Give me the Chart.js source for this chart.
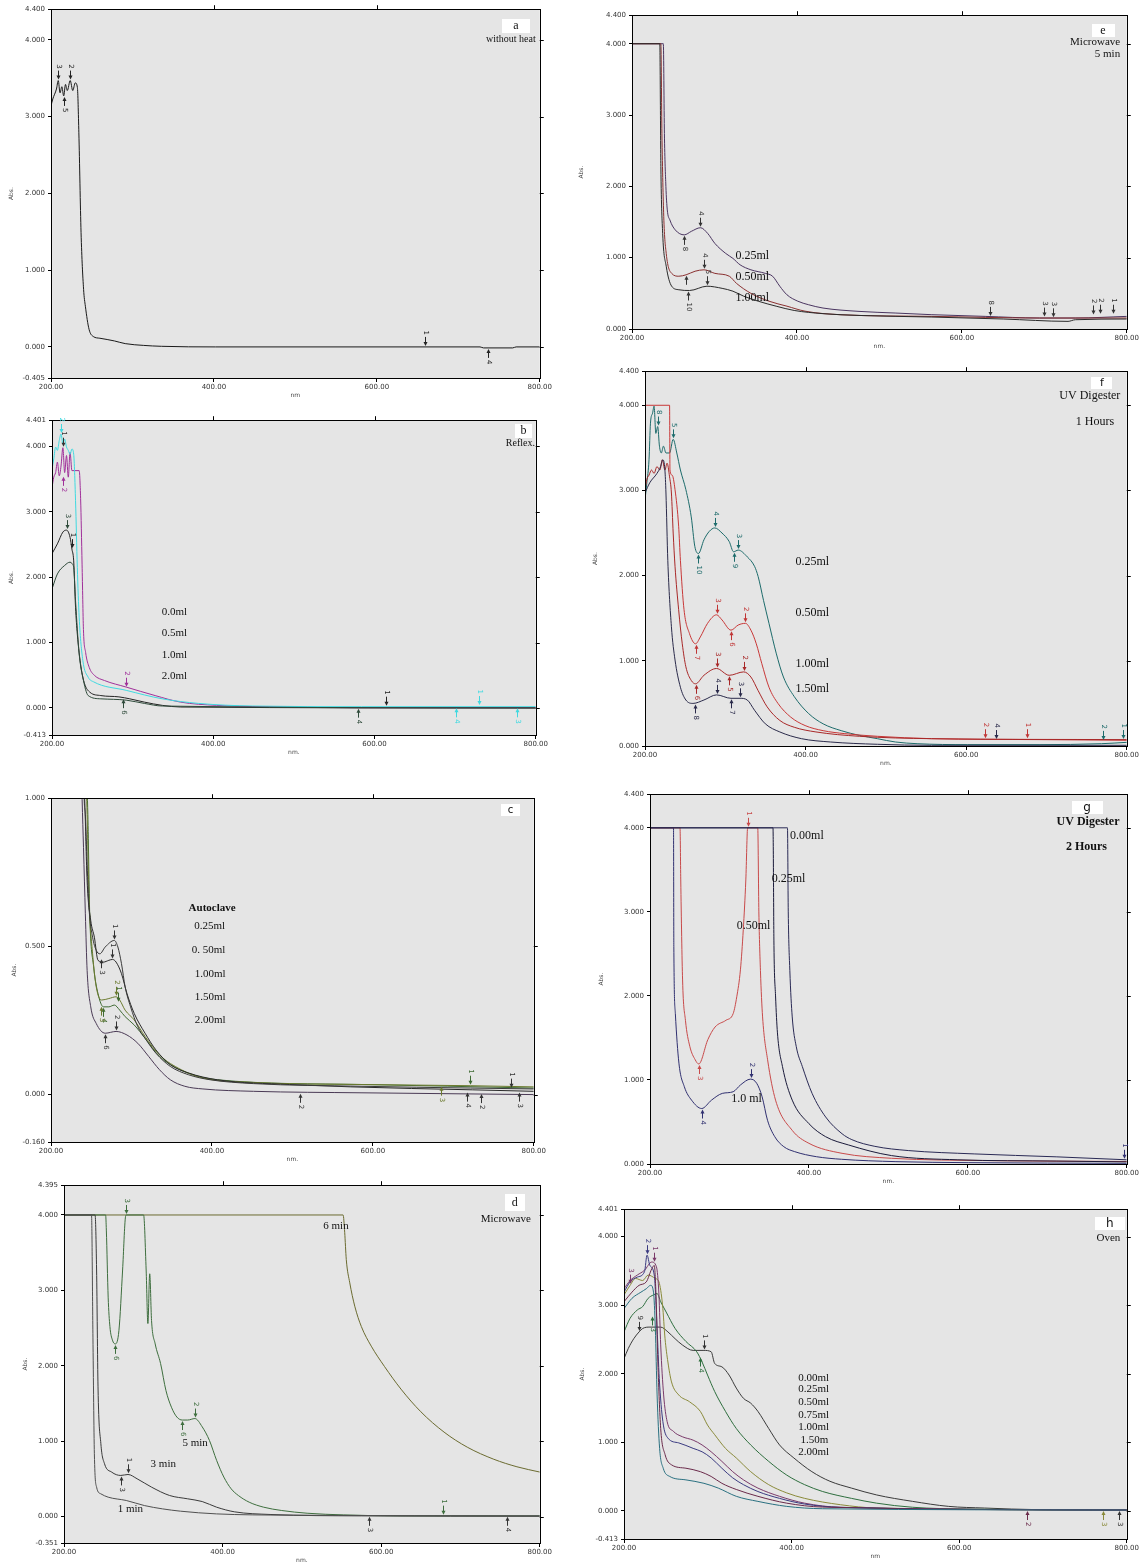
<!DOCTYPE html>
<html><head><meta charset="utf-8">
<script src="https://cdn.jsdelivr.net/npm/chart.js@4.4.0/dist/chart.umd.min.js"></script>
<style>
html,body{margin:0;padding:0;background:#fff;}
body{width:1140px;height:1564px;position:relative;overflow:hidden;}
canvas{position:absolute;}
</style>
</head><body>
<script>
// ---------------- DATA ----------------
const X_TICKS = [200, 400, 600, 800];
const A_YTICKS = [-0.405, 0, 1, 2, 3, 4, 4.4];
const B_YTICKS = [-0.413, 0, 1, 2, 3, 4, 4.401];
const C_YTICKS = [-0.16, 0, 0.5, 1.0];
const D_YTICKS = [-0.351, 0, 1, 2, 3, 4, 4.395];
const E_YTICKS = [0, 1, 2, 3, 4, 4.4];
const F_YTICKS = [0, 1, 2, 3, 4, 4.4];
const G_YTICKS = [0, 1, 2, 3, 4, 4.4];
const H_YTICKS = [-0.413, 0, 1, 2, 3, 4, 4.401];

// (a) without heat
const A_NM  = [200,202.2,206.7,208.9,211.1,213.3,215.6,217.8,220,223.6,226.7,229.8,232.4,234.2,236.9,240,242.2,246.7,252,260,277.8,291.1,313.3,335.6,402,726.7,731,766.7,771,800];
const A_ABS = [3.14,3.23,3.36,3.47,3.31,3.39,3.27,3.42,3.34,3.47,3.34,3.44,3.38,2.79,1.49,0.75,0.53,0.23,0.135,0.113,0.078,0.043,0.02,0.008,0,0,-0.013,-0.013,0,0];

// (b) Reflex
const B_NM_00  = [200,202.2,204.5,206.7,209.0,211.2,213.5,215.7,218.0,220.2,222.4,224.7,233.7,235.5,237.3,239.0,241.7,246.2,252.5,265.1,292.0,327.9,359.3,404.2,494.0,583.8,800];
const B_ABS_00 = [3.37,3.53,3.60,3.76,3.55,3.70,3.98,3.60,3.86,3.53,3.91,3.63,3.63,3.2,2.2,1.2,0.85,0.62,0.50,0.42,0.32,0.19,0.09,0.04,0.015,0.005,0.005];
const B_NM_05  = [200,202.2,204.5,206.7,209.0,211.2,213.5,215.7,218.0,220.2,222.4,224.7,226.9,229.2,231.4,233.7,238.2,244.9,251.6,292.0,336.9,381.8,449.1,583.8,800];
const B_ABS_05 = [3.65,3.81,3.99,3.94,4.09,4.19,4.04,4.11,3.99,3.94,3.88,3.96,3.88,3.17,2.15,1.39,0.73,0.47,0.40,0.27,0.14,0.07,0.03,0.02,0.02];
const B_NM_10  = [200,206.7,213.5,218.0,222.4,224.7,226.9,229.2,231.4,235.9,240.4,247.1,260.6,283.0,296.5,314.5,336.9,359.3,800];
const B_ABS_10 = [2.36,2.51,2.69,2.72,2.61,2.43,2.25,1.54,1.13,0.63,0.37,0.24,0.19,0.17,0.14,0.09,0.04,0.015,0.0];
const B_NM_20  = [200,206.7,215.7,222.4,224.7,226.9,229.2,233.7,238.2,244.9,260.6,292.0,314.5,336.9,800];
const B_ABS_20 = [1.82,2.05,2.18,2.23,2.21,2.15,1.64,0.83,0.47,0.19,0.14,0.12,0.07,0.03,0.0];

// (c) Autoclave
const C_NM_025  = [239.6,241.3,242.7,244.9,247.2,251.7,256.2,260.7,267.4,278.7,283.1,287.6,292.1,298.9,307.9,316.9,330.3,348.3,370.8,397.8,451.7,586.5,721.3,800];
const C_ABS_025 = [1.3,0.995,0.945,0.777,0.632,0.531,0.487,0.475,0.498,0.520,0.498,0.442,0.364,0.296,0.229,0.190,0.140,0.095,0.067,0.050,0.037,0.028,0.022,0.019];
const C_NM_050  = [240.4,242.2,244.9,249.4,253.9,258.4,265.2,271.9,276.4,280.9,287.6,294.4,303.4,316.9,330.3,348.3,370.8,406.7,496.6,800];
const C_ABS_050 = [1.1,0.968,0.721,0.587,0.531,0.453,0.447,0.453,0.456,0.447,0.408,0.341,0.274,0.207,0.151,0.101,0.073,0.050,0.034,0.011];
const C_NM_100  = [243.1,244.9,247.2,251.7,256.2,262.9,271.9,280.9,285.4,292.1,303.4,316.9,334.8,361.8,388.8,451.7,586.5,721.3,800];
const C_ABS_100 = [1.1,0.945,0.666,0.475,0.364,0.319,0.324,0.330,0.319,0.285,0.252,0.196,0.134,0.084,0.056,0.041,0.034,0.030,0.026];
const C_NM_150  = [244.0,245.8,248.1,253.0,258.4,265.2,271.9,278.7,285.4,292.1,303.4,316.9,334.8,361.8,406.7,586.5,800];
const C_ABS_150 = [1.1,0.945,0.610,0.431,0.341,0.296,0.296,0.302,0.285,0.263,0.235,0.190,0.129,0.082,0.050,0.034,0.022];
const C_NM_200  = [237.8,238.7,240.4,242.7,244.9,249.4,256.2,267.4,280.9,294.4,307.9,321.3,334.8,348.3,366.3,388.8,451.7,586.5,800];
const C_ABS_200 = [1.1,0.995,0.833,0.610,0.419,0.296,0.240,0.207,0.213,0.201,0.173,0.129,0.084,0.050,0.028,0.019,0.011,0.006,0.0];

// (d) Microwave
const D_NM_6   = [200,552,554,556,560.4,566.7,575,587.5,604.2,625,650,679.3,708.6,742,771.2,800];
const D_ABS_6  = [4,4,3.77,3.41,3.10,2.79,2.52,2.26,1.99,1.69,1.39,1.12,0.92,0.76,0.66,0.59];
const D_NM_5   = [200,252.5,253.4,255.7,257.9,261.1,264.8,269.3,273.9,277.6,278.5,300.4,303.6,305.8,308.1,310.4,315.0,321.8,328.6,335.5,342.3,349.2,356.0,365.1,374.3,383.4,392.5,401.6,410.8,419.9,433.6,451.8,474.6,506.6,552.2,620.6,800];
const D_ABS_5  = [4,4,3.80,2.91,2.52,2.34,2.29,2.47,3.27,3.98,4.0,4.0,3.27,2.56,3.22,2.60,2.29,2.03,1.67,1.45,1.32,1.28,1.28,1.30,1.19,1.01,0.744,0.523,0.368,0.279,0.190,0.124,0.080,0.044,0.022,0.009,0.009];
const D_NM_3   = [200,239.2,241.1,242.9,246.5,251.1,260.2,271.6,280.7,292.2,310.4,333.2,356.0,374.3,392.5,415.3,461.0,575.0,800];
const D_ABS_3  = [4,4,3.27,1.72,0.966,0.700,0.589,0.545,0.558,0.501,0.390,0.279,0.235,0.199,0.124,0.062,0.027,0.009,0.004];
const D_NM_1   = [200,234.7,236.5,238.3,241.1,246.5,255.7,278.5,301.3,324.1,346.9,392.5,483.8,800];
const D_ABS_1  = [4,4,2.38,0.833,0.390,0.301,0.257,0.213,0.146,0.102,0.071,0.035,0.018,0.009];

// (e) Microwave 5 min
const E_NM_025  = [200,238.0,239.3,241.1,242.8,245.9,252.4,263.4,272.1,283.0,291.8,300.5,313.6,322.4,331.1,344.2,361.7,370.5,379.2,387.9,401.0,414.2,431.6,475.3,519.1,562.8,628.3,693.9,737.6,800];
const E_ABS_025 = [4,4,2.74,2.0,1.67,1.53,1.39,1.32,1.37,1.42,1.34,1.20,1.06,0.99,0.90,0.83,0.78,0.74,0.60,0.48,0.39,0.34,0.294,0.247,0.224,0.201,0.177,0.154,0.154,0.177];
const E_NM_050  = [200,235.0,236.3,238.5,241.5,248.1,256.8,265.6,276.5,287.4,300.5,318.0,326.7,344.2,366.1,387.9,409.8,453.5,562.8,693.9,800];
const E_ABS_050 = [4,4,2.74,1.58,1.06,0.78,0.74,0.76,0.81,0.83,0.78,0.74,0.64,0.50,0.39,0.32,0.25,0.20,0.177,0.154,0.154];
const E_NM_100  = [200,233.7,235.0,237.2,241.5,248.1,256.8,269.9,290.9,309.3,322.4,335.5,353.0,374.8,396.7,431.6,475.3,562.8,650.2,728.8,737.6,800];
const E_ABS_100 = [4,4,2.28,1.34,0.88,0.60,0.55,0.54,0.60,0.57,0.53,0.46,0.39,0.32,0.26,0.215,0.19,0.168,0.14,0.107,0.13,0.14];

// (f) UV Digester 1 h
const F_NM_025  = [200,202.3,205.0,206.8,209.5,211.3,213.5,215.8,218.0,220.3,223.0,226.1,230.6,235.1,239.6,244.1,250.9,257.6,262.1,266.6,273.4,280.1,286.9,295.9,304.9,310.3,316.1,327.4,336.4,340.9,347.6,354.4,363.4,372.4,385.9,403.9,421.9,444.4,466.9,489.4,511.9,538.9,601.9,691.9,768.4,800];
const F_ABS_025 = [2.89,3.09,3.36,3.79,3.91,3.99,3.67,3.75,3.52,3.44,3.52,3.44,3.44,3.60,3.44,3.24,3.01,2.69,2.34,2.26,2.42,2.52,2.56,2.50,2.40,2.28,2.30,2.22,2.11,1.99,1.71,1.44,1.09,0.81,0.58,0.38,0.26,0.18,0.125,0.086,0.047,0.027,0.016,0.016,0.027,0.043];
const F_NM_050  = [200,230.6,231.1,233.8,237.4,241.9,244.1,248.6,255.4,263.0,268.9,277.9,289.1,295.9,307.1,316.1,325.1,331.9,338.6,345.4,354.4,365.6,381.4,399.4,421.9,448.9,489.4,556.9,691.9,800];
const F_ABS_050 = [4,4,3.24,3.18,3.01,2.58,2.18,1.60,1.32,1.20,1.28,1.44,1.54,1.48,1.36,1.42,1.44,1.36,1.20,0.97,0.69,0.50,0.34,0.24,0.18,0.145,0.114,0.086,0.075,0.067];
const F_NM_100  = [200,202.3,205.0,208.1,211.3,214.9,218.5,221.6,224.8,227.5,230.6,232.9,235.1,237.4,241.9,246.4,250.9,257.6,263.0,273.4,289.1,304.9,322.9,331.9,340.9,352.1,367.9,385.9,412.9,466.9,556.9,800];
const F_ABS_100 = [3.01,3.13,3.18,3.24,3.20,3.28,3.24,3.36,3.24,3.32,3.16,2.97,2.50,2.11,1.60,1.20,0.93,0.77,0.73,0.83,0.91,0.83,0.87,0.81,0.65,0.46,0.30,0.22,0.165,0.114,0.086,0.075];
const F_NM_150  = [200,205.9,214.9,219.4,222.1,224.8,226.1,228.4,232.9,237.4,244.1,250.9,259.9,273.4,289.1,307.1,318.4,327.4,336.4,349.9,367.9,394.9,430.9,489.4,556.9,800];
const F_ABS_150 = [2.97,3.09,3.20,3.28,3.36,3.24,2.97,2.18,1.40,1.01,0.69,0.54,0.50,0.54,0.60,0.56,0.56,0.54,0.42,0.26,0.165,0.086,0.047,0.020,0.008,0.008];

// (g) UV Digester 2 h
const G_NM_000  = [200,373,374,376,379,384,391.7,404,421,441.7,454,483,525,608,712,800];
const G_ABS_000 = [4,4,3.0,2.3,1.75,1.4,1.16,0.84,0.56,0.36,0.29,0.21,0.16,0.12,0.085,0.05];
const G_NM_025  = [200,354.8,356,358,360.4,366.7,379,400,421,450,504,587.5,712,800];
const G_ABS_025 = [4,4,2.6,2.0,1.56,1.16,0.76,0.48,0.325,0.226,0.10,0.05,0.035,0.025];
const G_NM_050  = [200,237.8,238.7,241.0,244.6,250.1,256.9,261.4,272.8,281.9,295.6,304.7,309.2,313.8,317.4,320.6,322.9,335.6,337,339,341.7,348,358,379,400,441.7,504,629,800];
const G_ABS_050 = [4,4,3.38,2.19,1.71,1.40,1.24,1.19,1.48,1.63,1.71,1.79,1.99,2.31,2.79,3.38,4.0,4.0,3.0,2.3,1.75,1.24,0.76,0.40,0.246,0.127,0.068,0.04,0.03];
const G_NM_10   = [200,229.6,230.0,231.9,236.4,243.2,252.3,265.1,277.4,291.0,304.7,313.8,326.5,334.3,341.1,347.9,357.0,368.4,382.1,409.4,441.2,509.5,600.5,800];
const G_ABS_10  = [4,4,2.59,1.79,1.20,0.92,0.76,0.66,0.76,0.84,0.86,0.94,1.01,0.96,0.80,0.52,0.325,0.206,0.147,0.087,0.056,0.028,0.016,0.008];

// (h) Oven
const H_NM_000  = [200,205.2,211.6,218.0,222.3,230.9,243.8,252.4,261.0,269.6,282.5,295.4,304.0,308.2,316.8,325.4,334.0,342.6,351.2,359.8,372.7,385.6,402.7,424.2,445.7,471.5,501.5,544.5,587.5,630.4,694.8,800];
const H_ABS_000 = [2.22,2.37,2.51,2.61,2.66,2.68,2.68,2.61,2.51,2.42,2.34,2.34,2.32,2.15,2.10,1.98,1.79,1.64,1.57,1.45,1.20,0.96,0.77,0.57,0.43,0.33,0.23,0.136,0.063,0.039,0.015,0.01];
const H_NM_025  = [200,207.3,215.9,222.3,228.8,235.2,239.5,243.8,250.3,261.0,273.9,286.8,293.2,299.7,308.2,321.1,334.0,351.2,372.7,394.2,415.6,437.1,471.5,501.5,544.5,608.9,800];
const H_ABS_025 = [2.61,2.81,2.93,2.98,3.10,3.15,3.17,3.05,2.90,2.66,2.47,2.32,2.17,1.98,1.74,1.45,1.20,0.96,0.72,0.52,0.38,0.28,0.18,0.11,0.05,0.024,0.01];
const H_NM_050  = [200,207.3,213.7,222.3,228.8,237.4,241.7,246.0,249.0,252.4,256.7,265.3,278.2,291.1,299.7,308.2,321.1,334.0,351.2,372.7,394.2,415.6,458.6,501.5,800];
const H_ABS_050 = [3.15,3.29,3.39,3.36,3.44,3.39,3.34,3.00,2.51,2.17,1.88,1.69,1.59,1.45,1.25,1.11,0.91,0.77,0.57,0.38,0.26,0.18,0.087,0.039,0.01];
const H_NM_075  = [200,207.3,215.9,224.5,233.1,238.7,241.7,243.8,247.3,251.5,258.8,269.6,282.5,293.2,304.0,316.8,329.7,342.6,359.8,385.6,415.6,458.6,800];
const H_ABS_075 = [3.24,3.36,3.44,3.51,3.63,3.56,3.15,2.42,1.69,1.30,1.16,1.08,1.03,0.96,0.86,0.72,0.57,0.45,0.33,0.21,0.11,0.049,0.01];
const H_NM_100  = [200,207.3,215.9,224.5,227.5,230.9,236.1,239.5,242.1,246.4,252.4,265.3,282.5,293.2,304.0,316.8,329.7,342.6,359.8,385.6,415.6,458.6,800];
const H_ABS_100 = [3.19,3.34,3.41,3.49,3.73,3.58,3.44,2.66,1.93,1.30,1.06,0.99,0.91,0.86,0.77,0.62,0.48,0.38,0.28,0.18,0.097,0.049,0.01];
const H_NM_150  = [200,209.5,218.0,226.6,233.1,236.1,238.2,240.4,243.8,249.0,256.7,273.9,291.1,304.0,316.8,334.0,359.8,394.2,437.1,800];
const H_ABS_150 = [3.05,3.19,3.29,3.34,3.53,3.58,3.15,2.17,1.20,0.82,0.67,0.62,0.57,0.50,0.40,0.31,0.21,0.11,0.053,0.01];
const H_NM_200  = [200,209.5,220.2,226.6,231.8,235.2,237.4,239.5,242.5,246.8,254.6,273.9,295.4,312.5,334.0,359.8,394.2,437.1,800];
const H_ABS_200 = [2.95,3.10,3.19,3.24,3.29,3.19,2.66,1.69,0.91,0.62,0.50,0.45,0.40,0.33,0.21,0.136,0.063,0.029,0.01];

// Peak-pick markers: [nm, abs, label, 'd' = arrow from above / 'u' = arrow from below]
const A_MK = [[208.9,3.47,'3','d'],[215.6,3.27,'5','u'],[223.6,3.47,'2','d'],[659,0,'1','d'],[737,-0.013,'4','u']];
const B_MK = [[211.2,4.19,'2','d'],[213.5,3.98,'1','d'],[213.5,3.55,'2','u'],[218,2.72,'3','d'],[224.7,2.43,'1','d'],[287.5,0.15,'6','u'],[292,0.31,'2','d'],[579,0.005,'4','u'],[614.3,0.02,'1','d'],[701.3,0.01,'4','u'],[729.6,0.03,'1','d'],[776.7,0.01,'3','u']];
const C_MK = [[278.7,0.52,'1','d'],[262,0.46,'3','u'],[276.4,0.456,'1','d'],[280.9,0.33,'2','d'],[283,0.31,'1','d'],[265.2,0.296,'4','u'],[262,0.30,'3','u'],[267.4,0.207,'6','u'],[280.9,0.213,'2','d'],[509.2,0.006,'2','u'],[684.5,0.03,'3','u'],[721.3,0.03,'1','d'],[716.9,0.01,'4','u'],[734.8,0.005,'2','u'],[772.1,0.02,'1','d'],[782,0.01,'3','u']];
const D_MK = [[278.5,4.0,'3','d'],[264.8,2.29,'6','u'],[349.2,1.28,'6','u'],[365.1,1.30,'2','d'],[271.6,0.545,'3','u'],[280.7,0.56,'1','d'],[677.6,0.012,'1','d'],[584.1,0.01,'3','u'],[758.9,0.01,'4','u']];
const E_MK = [[283,1.42,'4','d'],[263.4,1.32,'8','u'],[287.4,0.83,'4','d'],[265.6,0.76,'','u'],[290.9,0.60,'5','d'],[268,0.54,'10','u'],[634,0.17,'8','d'],[699.6,0.16,'3','d'],[710,0.15,'3','d'],[759.4,0.19,'2','d'],[767,0.2,'2','d'],[783.5,0.2,'1','d']];
const F_MK = [[215.8,3.75,'8','d'],[235.1,3.60,'5','d'],[286.9,2.56,'4','d'],[266.6,2.26,'10','u'],[310.3,2.28,'9','u'],[316.1,2.30,'3','d'],
              [289.1,1.54,'3','d'],[263.0,1.20,'7','u'],[307.1,1.36,'6','u'],[325.1,1.44,'2','d'],
              [289.1,0.91,'3','d'],[263.0,0.73,'6','u'],[304.9,0.83,'5','u'],[322.9,0.87,'2','d'],
              [289.1,0.60,'4','d'],[262,0.50,'8','u'],[307.1,0.56,'7','u'],[318.4,0.56,'3','d'],
              [623,0.08,'2','d'],[637,0.07,'4','d'],[676,0.08,'1','d'],[770.7,0.06,'2','d'],[795.4,0.07,'1','d']];
const G_MK = [[322.9,4.0,'1','d'],[261.4,1.19,'3','u'],[265.1,0.66,'4','u'],[326.5,1.01,'2','d'],[797,0.05,'1','d']];
const H_MK = [[295.4,2.34,'1','d'],[291,2.25,'4','u'],[227.5,3.73,'2','d'],[236,3.62,'1','d'],[207,3.3,'3','d'],[218,2.61,'9','d'],[233,2.85,'3','u'],[681,0.01,'2','u'],[771.3,0.01,'3','u'],[790.6,0.01,'3','u']];

// Panel letters and annotation texts
const LETTERS = ['a','b','c','d','e','f','g','h'];
const A_TXT = ['without heat'];
const B_TXT = ['Reflex.','0.0ml','0.5ml','1.0ml','2.0ml'];
const C_TXT = ['Autoclave','0.25ml','0. 50ml','1.00ml','1.50ml','2.00ml'];
const D_TXT = ['Microwave','6 min','5 min','3 min','1 min'];
const E_TXT = ['Microwave','5 min','0.25ml','0.50ml','1.00ml'];
const F_TXT = ['UV Digester','1 Hours','0.25ml','0.50ml','1.00ml','1.50ml'];
const G_TXT = ['UV Digester','2 Hours','0.00ml','0.25ml','0.50ml','1.0 ml'];
const H_TXT = ['Oven','0.00ml','0.25ml','0.50ml','0.75ml','1.00ml','1.50m','2.00ml'];

// ---------------- LAYOUT / STYLE ----------------
const SERIF = '"Liberation Serif", "DejaVu Serif", serif';
const SANS = '"DejaVu Sans", "Liberation Sans", sans-serif';
function tx(t, nm, abs, align, size, bold){ return {t, nm, abs, align, font:(bold?'bold ':'') + size + 'px ' + SERIF}; }

const PANELS = [
  {L:51, R:543, T:9, B:378, yW:43, yMin:-0.405, yMax:4.4, yTicks:A_YTICKS, xTitle:'nm',
   series:[[A_NM,A_ABS,'#1a1a1a']], marks:A_MK, markColors:['#222'],
   letter:{i:0, nm:770.8, abs:4.18, w:28, h:14, font:'12px '+SERIF},
   texts:[tx(A_TXT[0],795,4.01,'right',10)]},
  {L:52, R:539, T:420, B:735, yW:44, yMin:-0.413, yMax:4.401, yTicks:B_YTICKS, xTitle:'nm.',
   series:[[B_NM_20,B_ABS_20,'#2e4a3a'],[B_NM_10,B_ABS_10,'#222222'],[B_NM_05,B_ABS_05,'#3fd9e0'],[B_NM_00,B_ABS_00,'#a0309a']],
   marks:B_MK, markColors:['#3fd9e0','#333','#a0309a','#2e4a3a','#222','#2e4a3a','#a0309a','#2e4a3a','#222','#3fd9e0','#3fd9e0','#3fd9e0'],
   letter:{i:1, nm:784.7, abs:4.24, w:17, h:14, font:'12px '+SERIF},
   texts:[tx(B_TXT[0],799,4.04,'right',10), tx(B_TXT[1],336,1.46,'left',11), tx(B_TXT[2],336,1.14,'left',11), tx(B_TXT[3],336,0.81,'left',11), tx(B_TXT[4],336,0.48,'left',11)]},
  {L:51, R:537, T:798, B:1142, yW:40, yMin:-0.16, yMax:1.0, yTicks:C_YTICKS, xTitle:'nm.',
   series:[[C_NM_025,C_ABS_025,'#3a3a3a'],[C_NM_050,C_ABS_050,'#2a2a2a'],[C_NM_100,C_ABS_100,'#6b7a2e'],[C_NM_150,C_ABS_150,'#3e6a32'],[C_NM_200,C_ABS_200,'#4a3a55']],
   marks:C_MK, markColors:['#333','#333','#333','#6b7a2e','#3e6a32','#3e6a32','#6b7a2e','#333','#333','#333','#6b7a2e','#3e6a32','#333','#333','#333','#333'],
   letter:{i:2, nm:771, abs:0.96, w:19, h:12, font:'10px '+SANS},
   texts:[tx(C_TXT[0],371,0.63,'left',11,true), tx(C_TXT[1],378,0.567,'left',11), tx(C_TXT[2],375,0.486,'left',11), tx(C_TXT[3],378.6,0.407,'left',11), tx(C_TXT[4],378.6,0.329,'left',11), tx(C_TXT[5],378.6,0.252,'left',11)]},
  {L:64, R:543, T:1185, B:1543, yW:42, yMin:-0.351, yMax:4.395, yTicks:D_YTICKS, xTitle:'nm.',
   series:[[D_NM_1,D_ABS_1,'#505050'],[D_NM_3,D_ABS_3,'#3a3a3a'],[D_NM_5,D_ABS_5,'#3e6e3e'],[D_NM_6,D_ABS_6,'#6b6b30']],
   marks:D_MK, markColors:['#3e6e3e','#3e6e3e','#3e6e3e','#3e6e3e','#333','#333','#3e6e3e','#333','#333'],
   letter:{i:3, nm:768.6, abs:4.167, w:20, h:17, font:'12px '+SERIF},
   texts:[tx(D_TXT[0],788.7,3.95,'right',11), tx(D_TXT[1],527,3.85,'left',11), tx(D_TXT[2],349.3,0.98,'left',11), tx(D_TXT[3],309.2,0.70,'left',11), tx(D_TXT[4],267.8,0.10,'left',11)]},
  {L:632, R:1132, T:15, B:329, yW:54, yMin:0, yMax:4.4, yTicks:E_YTICKS, xTitle:'nm.',
   series:[[E_NM_100,E_ABS_100,'#2a2a2a'],[E_NM_050,E_ABS_050,'#8a3030'],[E_NM_025,E_ABS_025,'#4a3560']],
   marks:E_MK, markColors:['#333'],
   letter:{i:4, nm:771.2, abs:4.18, w:23, h:13, font:'12px '+SERIF},
   texts:[tx(E_TXT[0],792,4.02,'right',11), tx(E_TXT[1],792,3.86,'right',11), tx(E_TXT[2],325.4,1.03,'left',12), tx(E_TXT[3],325.4,0.73,'left',12), tx(E_TXT[4],325.4,0.44,'left',12)]},
  {L:645, R:1131, T:371, B:746, yW:53, yMin:0, yMax:4.4, yTicks:F_YTICKS, xTitle:'nm.',
   series:[[F_NM_150,F_ABS_150,'#2a2a4a'],[F_NM_100,F_ABS_100,'#a82828'],[F_NM_050,F_ABS_050,'#c83838'],[F_NM_025,F_ABS_025,'#1d6b6b']],
   marks:F_MK, markColors:['#1d6b6b','#1d6b6b','#1d6b6b','#1d6b6b','#1d6b6b','#1d6b6b','#c03535','#c03535','#c03535','#c03535','#a82828','#a82828','#a82828','#a82828','#2a2a4a','#2a2a4a','#2a2a4a','#2a2a4a','#c03535','#2a2a4a','#c03535','#1d6b6b','#1d6b6b'],
   letter:{i:5, nm:769, abs:4.26, w:21, h:12, font:'11px '+SANS},
   texts:[tx(F_TXT[0],792,4.11,'right',12), tx(F_TXT[1],784.3,3.81,'right',12), tx(F_TXT[2],387.4,2.16,'left',12), tx(F_TXT[3],387.4,1.56,'left',12), tx(F_TXT[4],387.4,0.97,'left',12), tx(F_TXT[5],387.4,0.67,'left',12)]},
  {L:650, R:1130, T:794, B:1164, yW:52, yMin:0, yMax:4.4, yTicks:G_YTICKS, xTitle:'nm.',
   series:[[G_NM_000,G_ABS_000,'#2a2a55'],[G_NM_025,G_ABS_025,'#1a1a3a'],[G_NM_050,G_ABS_050,'#c84a4a'],[G_NM_10,G_ABS_10,'#303070']],
   marks:G_MK, markColors:['#c84a4a','#c84a4a','#303070','#303070','#303070'],
   letter:{i:6, nm:750, abs:4.24, w:31, h:13, font:'12px '+SANS},
   texts:[tx(G_TXT[0],790.9,4.07,'right',12,true), tx(G_TXT[1],775,3.77,'right',12,true), tx(G_TXT[2],376.3,3.90,'left',12), tx(G_TXT[3],353.1,3.39,'left',12), tx(G_TXT[4],309.1,2.83,'left',12), tx(G_TXT[5],302.3,0.77,'left',12)]},
  {L:624, R:1133, T:1209, B:1539, yW:45, yMin:-0.413, yMax:4.401, yTicks:H_YTICKS, xTitle:'nm',
   series:[[H_NM_200,H_ABS_200,'#2a7080'],[H_NM_150,H_ABS_150,'#6a2a4a'],[H_NM_100,H_ABS_100,'#3a3a80'],[H_NM_075,H_ABS_075,'#7a3a6a'],[H_NM_050,H_ABS_050,'#8a8a3a'],[H_NM_025,H_ABS_025,'#2e6e3e'],[H_NM_000,H_ABS_000,'#3a3a3a']],
   marks:H_MK, markColors:['#333','#2e6e3e','#3a3a80','#7a3a6a','#7a3a6a','#333','#2e6e3e','#6a2a4a','#8a8a3a','#333'],
   letter:{i:7, nm:779.9, abs:4.19, w:30, h:13, font:'12px '+SANS},
   texts:[tx(H_TXT[0],792.3,3.98,'right',11), tx(H_TXT[1],408,1.94,'left',11), tx(H_TXT[2],408,1.77,'left',11), tx(H_TXT[3],408,1.58,'left',11), tx(H_TXT[4],408,1.40,'left',11), tx(H_TXT[5],408,1.22,'left',11), tx(H_TXT[6],410.7,1.03,'left',11), tx(H_TXT[7],408,0.85,'left',11)]}
];

const PAD_T = 7, X_H = 21;
const PLOT_BG = '#e5e5e5';

function drawMark(ctx, px, py, lbl, dir, color){
  const s = dir === 'd' ? -1 : 1;
  const x = Math.round(px) + 0.5;
  ctx.save();
  ctx.strokeStyle = color; ctx.fillStyle = color; ctx.lineWidth = 1;
  ctx.beginPath(); ctx.moveTo(x, py + s*10); ctx.lineTo(x, py + s*3); ctx.stroke();
  ctx.beginPath(); ctx.moveTo(x, py + s*1); ctx.lineTo(x - 2, py + s*5); ctx.lineTo(x + 2, py + s*5); ctx.closePath(); ctx.fill();
  if (lbl) {
    ctx.font = '7px ' + SANS;
    const w = ctx.measureText(lbl).width;
    ctx.translate(x, py + s*(12 + w/2));
    ctx.rotate(Math.PI/2);
    ctx.textAlign = 'center'; ctx.textBaseline = 'middle';
    ctx.fillText(lbl, 0, 0);
  }
  ctx.restore();
}

PANELS.forEach((p, idx) => {
  const left = p.L - p.yW;
  const padR = Math.max(0, Math.min(10, 1140 - p.R));
  const w = p.yW + (p.R - p.L) + padR;
  const h = PAD_T + (p.B - p.T) + X_H;
  const cv = document.createElement('canvas');
  cv.width = w; cv.height = h;
  cv.style.left = left + 'px'; cv.style.top = (p.T - PAD_T) + 'px';
  cv.style.width = w + 'px'; cv.style.height = h + 'px';
  document.body.appendChild(cv);

  const datasets = p.series.map(s => ({
    data: s[0].map((x, i) => ({x: x, y: s[1][i]})),
    borderColor: s[2], borderWidth: 1, pointRadius: 0, fill: false,
    cubicInterpolationMode: 'monotone'
  }));

  const deco = {
    id: 'deco' + idx,
    beforeDraw(chart){
      const a = chart.chartArea, ctx = chart.ctx;
      ctx.save(); ctx.fillStyle = PLOT_BG;
      ctx.fillRect(a.left, a.top, a.right - a.left, a.bottom - a.top);
      ctx.restore();
    },
    afterDraw(chart){
      const a = chart.chartArea, ctx = chart.ctx;
      const xs = chart.scales.x, ys = chart.scales.y;
      ctx.save();
      ctx.strokeStyle = '#000'; ctx.lineWidth = 1;
      ctx.strokeRect(Math.round(a.left) + 0.5, Math.round(a.top) + 0.5, Math.round(a.right - a.left), Math.round(a.bottom - a.top));
      ctx.beginPath();
      X_TICKS.slice(1, -1).forEach(v => { const x = Math.round(xs.getPixelForValue(v)) + 0.5; ctx.moveTo(x, a.top); ctx.lineTo(x, a.top - 4); });
      p.yTicks.forEach(v => { if (v === p.yMin || v === p.yMax) return; const y = Math.round(ys.getPixelForValue(v)) + 0.5; ctx.moveTo(a.right, y); ctx.lineTo(a.right + 4, y); });
      ctx.stroke();
      ctx.restore();
      p.marks.forEach((m, i) => {
        const col = p.markColors[Math.min(i, p.markColors.length - 1)];
        drawMark(ctx, xs.getPixelForValue(m[0]), ys.getPixelForValue(m[1]), m[2], m[3], col);
      });
      ctx.save();
      ctx.fillStyle = '#111'; ctx.textBaseline = 'middle';
      p.texts.forEach(t => {
        ctx.font = t.font; ctx.textAlign = t.align;
        ctx.fillText(t.t, xs.getPixelForValue(t.nm), ys.getPixelForValue(t.abs));
      });
      const L = p.letter;
      const cx = xs.getPixelForValue(L.nm), cy = ys.getPixelForValue(L.abs);
      ctx.fillStyle = '#fff';
      ctx.fillRect(Math.round(cx - L.w/2), Math.round(cy - L.h/2), L.w, L.h);
      ctx.fillStyle = '#111'; ctx.font = L.font; ctx.textAlign = 'center';
      ctx.fillText(LETTERS[L.i], cx, cy);
      ctx.restore();
    }
  };

  new Chart(cv, {
    type: 'line',
    data: { datasets },
    options: {
      responsive: false, animation: false, events: [],
      devicePixelRatio: 1,
      layout: { autoPadding: false, padding: { top: PAD_T, right: padR, left: 0, bottom: 0 } },
      plugins: { legend: { display: false }, tooltip: { enabled: false } },
      scales: {
        x: {
          type: 'linear', min: 200, max: 800, position: 'bottom',
          afterBuildTicks: s => { s.ticks = X_TICKS.map(v => ({ value: v })); },
          afterFit: s => { s.height = X_H; },
          ticks: { callback: v => Number(v).toFixed(2), font: { size: 7, family: SANS }, color: '#333', maxRotation: 0, autoSkip: false, padding: 1 },
          grid: { display: true, drawOnChartArea: false, drawTicks: true, tickLength: 4, color: '#000' },
          border: { display: true, color: '#000', width: 1 },
          title: { display: true, text: p.xTitle, font: { size: 6, family: SANS }, color: '#444', padding: 0 }
        },
        y: {
          type: 'linear', min: p.yMin, max: p.yMax, position: 'left',
          afterBuildTicks: s => { s.ticks = p.yTicks.map(v => ({ value: v })); },
          afterFit: s => { s.width = p.yW; },
          ticks: { callback: v => Number(v).toFixed(3), font: { size: 7, family: SANS }, color: '#333', autoSkip: false, padding: 3 },
          grid: { display: true, drawOnChartArea: false, drawTicks: true, tickLength: 3, color: '#000' },
          border: { display: true, color: '#000', width: 1 },
          title: { display: true, text: 'Abs.', font: { size: 6, family: SANS }, color: '#444', padding: 0 }
        }
      }
    },
    plugins: [deco]
  });
});
</script>
</body></html>
